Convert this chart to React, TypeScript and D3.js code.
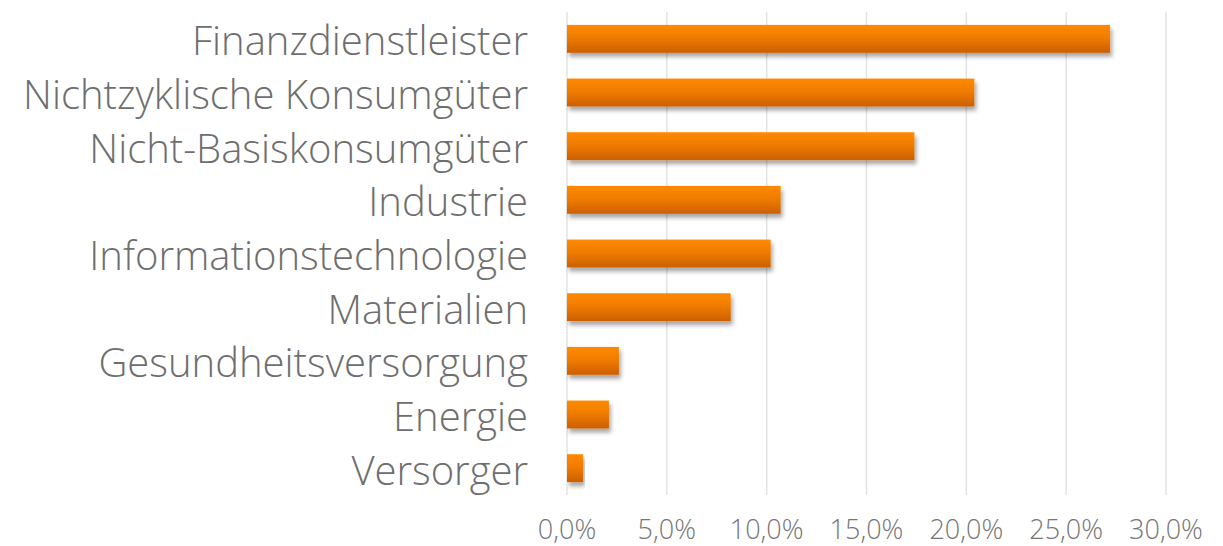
import React from "react";
import * as d3 from "d3";

const categories = [
  "Finanzdienstleister",
  "Nichtzyklische Konsumgüter",
  "Nicht-Basiskonsumgüter",
  "Industrie",
  "Informationstechnologie",
  "Materialien",
  "Gesundheitsversorgung",
  "Energie",
  "Versorger",
];
const values = [27.2, 20.4, 17.4, 10.7, 10.2, 8.2, 2.6, 2.1, 0.8];
const ticks = [0, 5, 10, 15, 20, 25, 30];

const W = 1223;
const H = 546;
const M = { left: 567, right: 57, top: 12, bottom: 51 };

export default function App() {
  const x = d3.scaleLinear().domain([0, 30]).range([M.left, W - M.right]);
  const y = d3
    .scaleBand<string>()
    .domain(categories)
    .range([M.top, H - M.bottom])
    .paddingInner(0.48)
    .paddingOuter(0.24);
  const fmt = (v: number) => v.toFixed(1).replace(".", ",") + "%";
  const font = "'Open Sans', 'Noto Sans', sans-serif";
  return (
    <svg
      width={W}
      height={H}
      style={{ position: "absolute", left: 0, top: 0, background: "#fff" }}
    >
      <defs>
        <linearGradient id="barGrad" x1="0" y1="0" x2="0" y2="1">
          <stop offset="0%" stopColor="#FF8A00" />
          <stop offset="45%" stopColor="#F07C00" />
          <stop offset="100%" stopColor="#CC5F00" />
        </linearGradient>
        <filter id="shadow" x="-5%" y="-20%" width="115%" height="160%">
          <feGaussianBlur in="SourceAlpha" stdDeviation="2" />
          <feOffset dx="2" dy="4" result="ob" />
          <feComponentTransfer>
            <feFuncA type="linear" slope="0.35" />
          </feComponentTransfer>
          <feMerge>
            <feMergeNode />
            <feMergeNode in="SourceGraphic" />
          </feMerge>
        </filter>
      </defs>
      {ticks.map((t) => (
        <line
          key={"g" + t}
          x1={x(t)}
          x2={x(t)}
          y1={M.top}
          y2={H - M.bottom}
          stroke="#E3E3E3"
          strokeWidth={1.5}
        />
      ))}
      {categories.map((c, i) => (
        <rect
          key={c}
          x={x(0)}
          y={y(c)}
          width={x(values[i]) - x(0)}
          height={y.bandwidth()}
          fill="url(#barGrad)"
          filter="url(#shadow)"
        />
      ))}
      {categories.map((c) => (
        <text
          key={"l" + c}
          x={528}
          y={(y(c) as number) + y.bandwidth() / 2 + 1}
          textAnchor="end"
          dominantBaseline="central"
          fontFamily={font}
          fontWeight={300}
          fontSize={40}
          fill="#6E6E6E"
        >
          {c}
        </text>
      ))}
      {ticks.map((t) => (
        <text
          key={"t" + t}
          x={x(t)}
          y={528}
          textAnchor="middle"
          dominantBaseline="central"
          fontFamily={font}
          fontWeight={300}
          fontSize={27}
          fill="#767676"
        >
          {fmt(t)}
        </text>
      ))}
    </svg>
  );
}
